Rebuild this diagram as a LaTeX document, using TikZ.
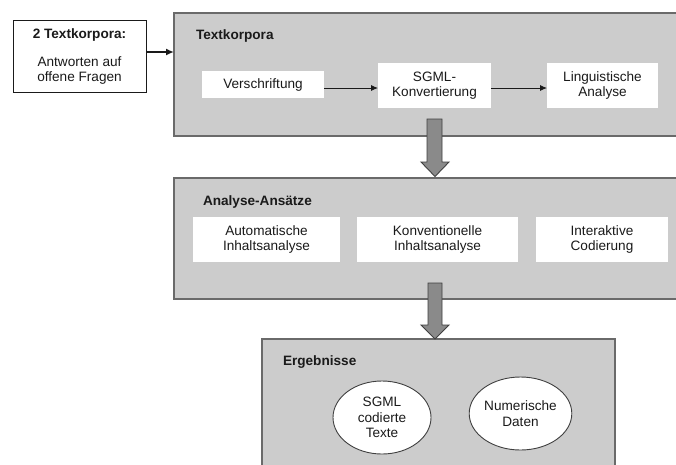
\documentclass[tikz,border=0pt]{standalone}
\usepackage{fontspec}
\setmainfont{Liberation Sans}
\usetikzlibrary{arrows.meta,shapes.geometric}
\definecolor{panelgray}{HTML}{CCCCCC}
\definecolor{panelline}{HTML}{6A6A6A}
\definecolor{arrowgray}{HTML}{8A8A8A}
\definecolor{arrowline}{HTML}{404040}
\definecolor{txt}{HTML}{1A1A1A}
\tikzset{
  every node/.style={font=\fontsize{13.6}{15.5}\selectfont, text=txt, inner sep=0pt, outer sep=0pt},
  panel/.style={draw=panelline, fill=panelgray, line width=1.1pt, rectangle},
  whitebox/.style={fill=white, rectangle, align=center},
  titletext/.style={font=\fontsize{13.6}{15.5}\selectfont\bfseries, anchor=west},
  oval/.style={ellipse, draw=arrowline, fill=white, line width=0.9pt, align=center},
  conn/.style={draw=txt, line width=0.9pt, -{Latex[length=7pt,width=6pt]}},
  thickconn/.style={draw=txt, line width=2pt, -{Latex[length=8pt,width=7pt]}},
  blockarrow/.style={fill=arrowgray, draw=arrowline, line width=0.9pt, line join=miter},
}
\begin{document}
\begin{tikzpicture}[x=1pt,y=-1pt]
\useasboundingbox (0,0) rectangle (676,464);
\clip (0,0) rectangle (676,464);
\fill[white] (0,0) rectangle (676,464);
% left source box
\node[draw=txt, line width=1pt, fill=white, minimum width=133pt, minimum height=72pt] (lb) at (79.5,56) {};
\node[font=\fontsize{13.6}{15.5}\selectfont\bfseries] (lbt) at (79.5,35) {2 Textkorpora:};
\node[align=center] (lbx) at (79.5,70.5) {Antworten auf\\offene Fragen};
% panels
\node[panel, minimum width=526pt, minimum height=123pt] (tk) at (437,74.5) {};
\node[panel, minimum width=526pt, minimum height=121pt] (an) at (437,238.5) {};
\node[panel, minimum width=353pt, minimum height=141pt] (er) at (438.5,409.5) {};
% titles
\node[titletext] (tkt) at (196,36) {Textkorpora};
\node[titletext] (ant) at (203,202) {Analyse-Ans\"atze};
\node[titletext] (ert) at (283,362) {Ergebnisse};
% Textkorpora boxes
\node[whitebox, minimum width=122pt, minimum height=27pt] (vs) at (263,84.5) {Verschriftung};
\node[whitebox, minimum width=113pt, minimum height=45pt] (sg) at (434.5,85.5) {SGML-\\Konvertierung};
\node[whitebox, minimum width=111pt, minimum height=45pt] (li) at (602.5,85.5) {Linguistische\\Analyse};
% Analyse boxes
\node[whitebox, minimum width=147pt, minimum height=45pt] (au) at (266.5,239.5) {Automatische\\Inhaltsanalyse};
\node[whitebox, minimum width=161pt, minimum height=45pt] (ko) at (437.5,239.5) {Konventionelle\\Inhaltsanalyse};
\node[whitebox, minimum width=132pt, minimum height=45pt] (ia) at (602,239.5) {Interaktive\\Codierung};
% ellipses
\node[oval, minimum width=98pt, minimum height=73pt] (e1) at (382,417.5) {SGML\\codierte\\Texte};
\node[oval, minimum width=97pt, minimum height=73pt] (e2) at (520.5,413.5) {Numerische\\Daten};
% connectors
\draw[thickconn] ([yshift=4pt]lb.east) -- ([yshift=4pt]lb.east -| tk.west);
\draw[conn] ([yshift=-3.5pt]vs.east) -- ([yshift=-2.5pt]sg.west);
\draw[conn] ([yshift=-2.5pt]sg.east) -- ([yshift=-2.5pt]li.west);
% block arrows
\draw[blockarrow] (427,119) -- (442,119) -- (442,162) -- (449,162) -- (435,176.5) -- (421,162) -- (427,162) -- cycle;
\draw[blockarrow] (428,283) -- (442,283) -- (442,325) -- (449,325) -- (435,339) -- (421,325) -- (428,325) -- cycle;
\end{tikzpicture}
\end{document}
